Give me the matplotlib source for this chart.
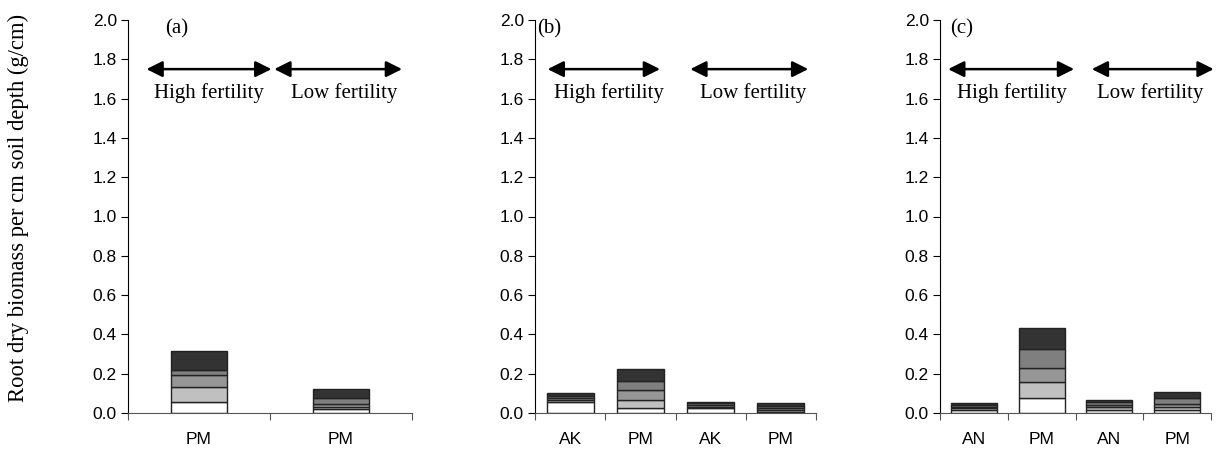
import numpy as np
import matplotlib
matplotlib.use("Agg")
import matplotlib.pyplot as plt

plt.rcParams['font.family'] = 'Liberation Sans'

# root biomass per soil layer (g/cm), layers from top soil (bottom of stack) downward
layer_colors = ['#ffffff', '#c0c0c0', '#969696', '#7f7f7f', '#333333']

cats_a = ['PM', 'PM']
layers_a = [
    [0.057, 0.020],
    [0.075, 0.012],
    [0.060, 0.015],
    [0.027, 0.030],
    [0.095, 0.045],
]

cats_b = ['AK', 'PM', 'AK', 'PM']
layers_b = [
    [0.056, 0.025, 0.025, 0.006],
    [0.008, 0.039, 0.008, 0.008],
    [0.010, 0.051, 0.008, 0.010],
    [0.014, 0.050, 0.008, 0.012],
    [0.015, 0.061, 0.008, 0.015],
]

cats_c = ['AN', 'PM', 'AN', 'PM']
layers_c = [
    [0.015, 0.076, 0.017, 0.017],
    [0.010, 0.083, 0.013, 0.013],
    [0.008, 0.072, 0.012, 0.014],
    [0.008, 0.095, 0.012, 0.034],
    [0.008, 0.109, 0.014, 0.027],
]

panel_labels = ['(a)', '(b)', '(c)']
label_x = [-0.16, -0.30, -0.18]

fig = plt.figure(figsize=(12.2, 4.74), dpi=100)
W, H = 1220, 474
bottom = 1 - 413 / H
height = (413 - 20) / H
boxes = [(128, 284), (535, 281), (940, 271)]

# arrow spans and text centres in data coords: (high_span, low_span, high_x, low_x)
arrow_cfg = [
    ((-0.37, 0.51), (0.53, 1.43), 0.07, 1.02),
    ((-0.32, 1.28), (1.71, 3.39), 0.55, 2.61),
    ((-0.38, 1.48), (1.74, 3.54), 0.56, 2.60),
]

panels = [(cats_a, layers_a, 0.40), (cats_b, layers_b, 0.67), (cats_c, layers_c, 0.68)]

for i, ((cats, layers, bw), (x0, w)) in enumerate(zip(panels, boxes)):
    ax = fig.add_axes([x0 / W, bottom, w / W, height])
    x = np.arange(len(cats))
    base = np.zeros(len(cats))
    for vals, col in zip(layers, layer_colors):
        ax.bar(x, vals, bw, bottom=base, color=col, edgecolor='#222222', linewidth=1.0)
        base += np.array(vals)

    ax.set_xlim(-0.5, len(cats) - 0.5)
    ax.set_ylim(0, 2.0)
    yt = np.arange(0, 2.01, 0.2)
    ax.set_yticks(yt)
    ax.set_yticklabels([f'{v:.1f}' for v in yt], fontsize=12.5)
    # category boundaries carry the tick marks, names sit between them
    ax.set_xticks(np.arange(-0.5, len(cats), 1.0))
    ax.set_xticklabels([])
    ax.set_xticks(x, minor=True)
    ax.set_xticklabels(cats, minor=True, fontsize=12.5)
    ax.tick_params(axis='x', which='minor', length=0, pad=14)
    ax.tick_params(axis='x', which='major', length=5, color='#555555')
    ax.tick_params(axis='y', length=5, pad=3)
    for s in ['top', 'right']:
        ax.spines[s].set_visible(False)
    ax.spines['bottom'].set_color('#555555')

    ax.text(label_x[i], 1.955, panel_labels[i], family='Liberation Serif', fontsize=15,
            ha='center', va='center')

    hi, lo, hx, lx = arrow_cfg[i]
    for (a0, a1) in (hi, lo):
        ax.annotate('', xy=(a0, 1.75), xytext=(a1, 1.75), annotation_clip=False,
                    arrowprops=dict(arrowstyle='<|-|>', color='black', lw=1.8,
                                    mutation_scale=24, shrinkA=0, shrinkB=0))
    ax.text(hx, 1.63, 'High fertility', family='Liberation Serif', fontsize=15,
            ha='center', va='center')
    ax.text(lx, 1.63, 'Low fertility', family='Liberation Serif', fontsize=15,
            ha='center', va='center')

fig.text(0.015, 1 - 208 / H, 'Root dry biomass per cm soil depth (g/cm)',
         family='Liberation Serif', fontsize=16.3, rotation=90, ha='center', va='center')

fig.savefig('out.png', dpi=100)
